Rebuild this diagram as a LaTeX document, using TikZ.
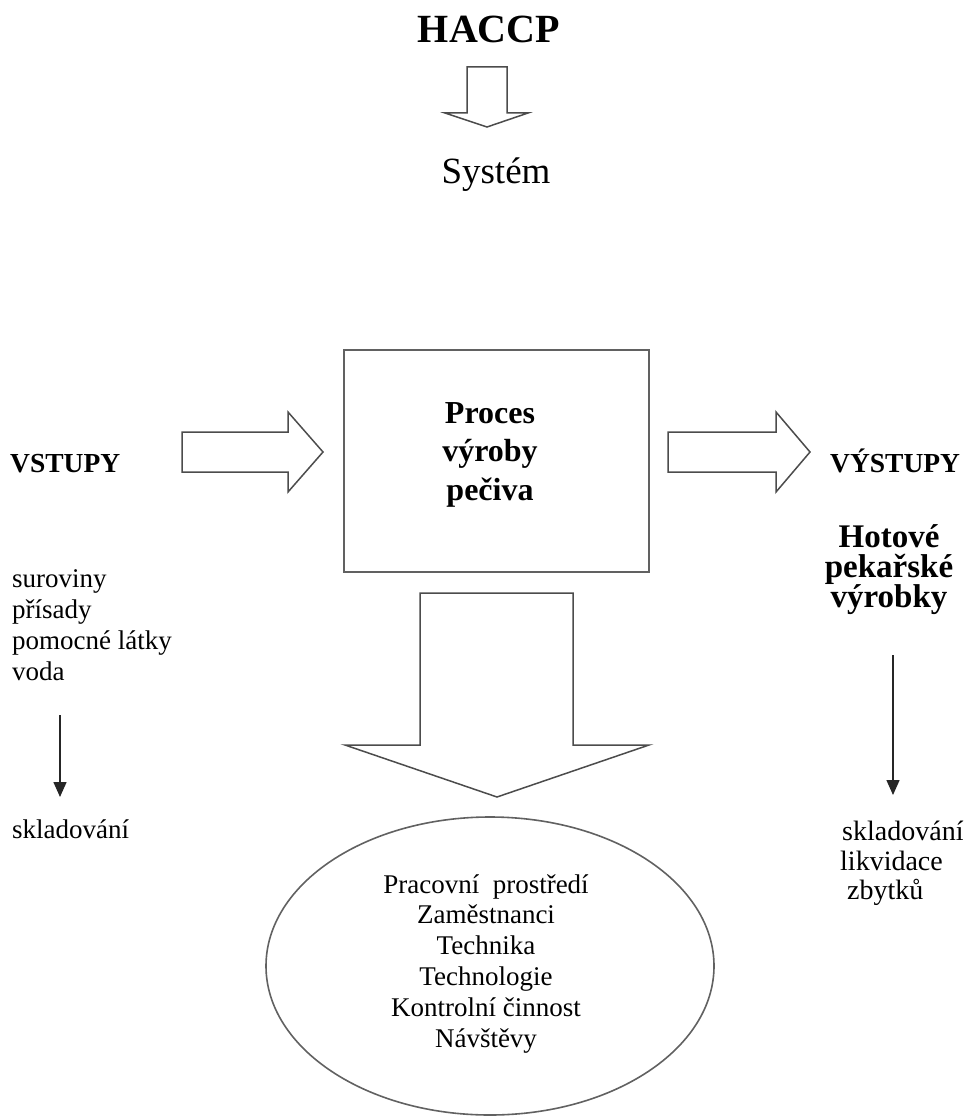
\documentclass[tikz,border=0pt]{standalone}
\usepackage{fontspec}
\setmainfont{Liberation Serif}
\usetikzlibrary{shapes.geometric,arrows.meta}

\begin{document}
\begin{tikzpicture}[x=1pt,y=-1pt,
  outline/.style={draw=black!62, line width=1.6pt},
  blockarrow/.style={draw=black!70, line width=1.5pt, fill=white, line join=miter},
  thinarrow/.style={draw=black!85, line width=1.5pt, -{Triangle[length=15pt,width=13pt]}},
  lbl/.style={inner sep=0pt, anchor=base},
  lblw/.style={inner sep=0pt, anchor=base west},
]
\useasboundingbox (0,0) rectangle (967,1118);

% title and the small arrow down to "Systém"
\node[lbl, font=\bfseries\fontsize{40}{48}\selectfont] (haccp) at (489,43) {HACCP};
\node[lbl, font=\fontsize{37}{44}\selectfont] (system) at (496,183) {Systém};
\draw[blockarrow] (467,67) -- (507,67) -- (507,113) -- (528,113) -- (487,127)
  -- (445,113) -- (467,113) -- cycle;

% central process box (multi-line labels are placed by their last baseline)
\node[outline, minimum width=305pt, minimum height=222pt, inner sep=0pt] (proc) at (496.5,461) {};
\node[lbl, align=center, font=\bfseries\fontsize{32}{38.5}\selectfont] (proctext) at (490,500)
  {Proces\\výroby\\pečiva};

% inputs side
\node[lblw, font=\bfseries\fontsize{27.5}{33}\selectfont] (vstupy) at (10,472) {VSTUPY};
\draw[blockarrow] (182,432) -- (288,432) -- (288,412) -- (323,452) -- (288,492)
  -- (288,472) -- (182,472) -- cycle;
\node[lblw, align=left, font=\fontsize{27}{30.7}\selectfont] (inputs) at (12,680)
  {suroviny\\přísady\\pomocné látky\\voda};
\coordinate (inA) at (60,715);
\coordinate (inB) at (60,797);
\draw[thinarrow] (inA) -- (inB);
\node[lblw, font=\fontsize{27}{31}\selectfont] (instore) at (12,838) {skladování};

% outputs side
\draw[blockarrow] (668,432) -- (776,432) -- (776,412) -- (810,452) -- (776,492)
  -- (776,472) -- (668,472) -- cycle;
\node[lblw, font=\bfseries\fontsize{27.5}{33}\selectfont] (vystupy) at (830,472) {VÝSTUPY};
\node[lbl, align=center, font=\bfseries\fontsize{33}{30}\selectfont] (result) at (889,607)
  {Hotové\\pekařské\\výrobky};
\coordinate (outA) at (893,655);
\coordinate (outB) at (893,795);
\draw[thinarrow] (outA) -- (outB);
\node[lblw, font=\fontsize{28}{30}\selectfont] (outstore) at (842,840) {skladování};
\node[lblw, font=\fontsize{28}{30}\selectfont] (outliq) at (840,870) {likvidace};
\node[lblw, font=\fontsize{28}{30}\selectfont] (outrest) at (847,899) {zbytků};

% large arrow down to the environment ellipse
\draw[blockarrow] (420,593) -- (573,593) -- (573,745) -- (649,745) -- (497,797)
  -- (345,745) -- (420,745) -- cycle;
\node[ellipse, outline, minimum width=448pt, minimum height=298pt, inner sep=0pt] (env) at (490,966) {};
\node[lbl, align=center, font=\fontsize{27}{30.8}\selectfont] (envtext) at (486,1047)
  {Pracovní\ \ prostředí\\Zaměstnanci\\Technika\\Technologie\\Kontrolní činnost\\Návštěvy};
\end{tikzpicture}
\end{document}
